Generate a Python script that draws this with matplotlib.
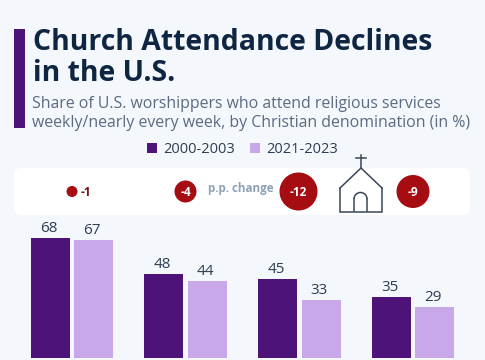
import matplotlib
matplotlib.use("Agg")
import matplotlib.pyplot as plt
from matplotlib.patches import Circle, FancyBboxPatch, Rectangle, Arc

period_labels = ["2000-2003", "2021-2023"]
values_early = [68, 48, 45, 35]
values_late = [67, 44, 33, 29]
pp_changes = ["-1", "-4", "-12", "-9"]
title_lines = ["Church Attendance Declines", "in the U.S."]
subtitle_lines = ["Share of U.S. worshippers who attend religious services",
                  "weekly/nearly every week, by Christian denomination (in %)"]

BG = "#F4F7FB"; DARK = "#4D1379"; LIGHT = "#C8A8E9"; RED = "#A50D12"
NAVY = "#0F2642"; GREY = "#5B6B82"; TXT = "#2E3D52"; PP = "#8DA2B5"; LINE = "#3A4658"
plt.rcParams["font.family"] = ["Open Sans", "Noto Sans", "DejaVu Sans"]

W, H = 485, 360
fig = plt.figure(figsize=((W + 0.01) / 100, (H + 0.01) / 100), dpi=100, facecolor=BG)

# Pixel-coordinate overlay for decoration
ov = fig.add_axes([0, 0, 1, 1], zorder=1)
ov.set_xlim(0, W); ov.set_ylim(H, 0); ov.axis("off")

ov.add_patch(Rectangle((14, 29), 11, 99, fc=DARK, ec="none"))
ov.text(33, 42, title_lines[0], fontsize=20.4, fontweight="bold", color=NAVY, va="center")
ov.text(33, 73, title_lines[1], fontsize=20.4, fontweight="bold", color=NAVY, va="center")
ov.text(32, 104, subtitle_lines[0], fontsize=11.45, color=GREY, va="center")
ov.text(32, 123, subtitle_lines[1], fontsize=11.45, color=GREY, va="center")

ov.add_patch(Rectangle((147, 143), 10, 10, fc=DARK, ec="none"))
ov.text(163, 149, period_labels[0], fontsize=10.5, color=TXT, va="center")
ov.add_patch(Rectangle((250, 143), 10, 10, fc=LIGHT, ec="none"))
ov.text(266, 149, period_labels[1], fontsize=10.5, color=TXT, va="center")

ov.add_patch(FancyBboxPatch((14, 168), 456, 47, boxstyle="round,pad=0,rounding_size=7",
                            fc="white", ec="none"))

cx = [72, 185.5, 298.5, 413]
rad = [5.5, 11, 19, 16.5]
for x, r, lab in zip(cx, rad, pp_changes):
    ov.add_patch(Circle((x, 191.5), r, fc=RED, ec="none", zorder=3))
    if r < 8:
        ov.text(x + 14, 192, lab, fontsize=8.6, fontweight="bold", color="#7A1016",
                ha="center", va="center", zorder=4)
    else:
        ov.text(x, 192, lab, fontsize=8.6, fontweight="bold", color="white",
                ha="center", va="center", zorder=4)
ov.text(241, 188.5, "p.p. change", fontsize=8.4, fontweight="bold", color=PP, ha="center", va="center")

# church icon
lw = 1.1
ov.plot([340, 340, 382, 382], [188, 212, 212, 188], color=LINE, lw=lw, solid_joinstyle="miter")
ov.plot([340, 361, 382], [188, 168, 188], color=LINE, lw=lw)
ov.plot([361, 361], [155, 168], color=LINE, lw=lw)
ov.plot([356, 366], [158.5, 158.5], color=LINE, lw=lw)
ov.plot([354, 354], [199, 211], color=LINE, lw=lw)
ov.plot([367, 367], [199, 211], color=LINE, lw=lw)
ov.add_patch(Arc((360.5, 199), 13, 13, theta1=180, theta2=360, color=LINE, lw=lw))

# Bars
unit = 113.7; scale = 1.765; base = 358.5; top = 225
ax = fig.add_axes([0, (H - base) / H, 1, (base - top) / H], zorder=2)
ax.patch.set_alpha(0)
ax.set_xlim(-72 / unit, (W - 72) / unit)
ax.set_ylim(0, (base - top) / scale)
ax.axis("off")
xs = range(len(values_early))
off = 21.75 / unit; bw = 39 / unit
for i in xs:
    ax.bar(i - off, values_early[i], bw, color=DARK)
    ax.bar(i + off, values_late[i], bw, color=LIGHT)
    ax.annotate(str(values_early[i]), (i - off, values_early[i]), xytext=(-1.2, 1.5), textcoords="offset points",
                ha="center", va="bottom", fontsize=11, color=TXT)
    ax.annotate(str(values_late[i]), (i + off, values_late[i]), xytext=(-1.2, 1.5), textcoords="offset points",
                ha="center", va="bottom", fontsize=11, color=TXT)

fig.savefig("out.png", dpi=100, facecolor=BG)
